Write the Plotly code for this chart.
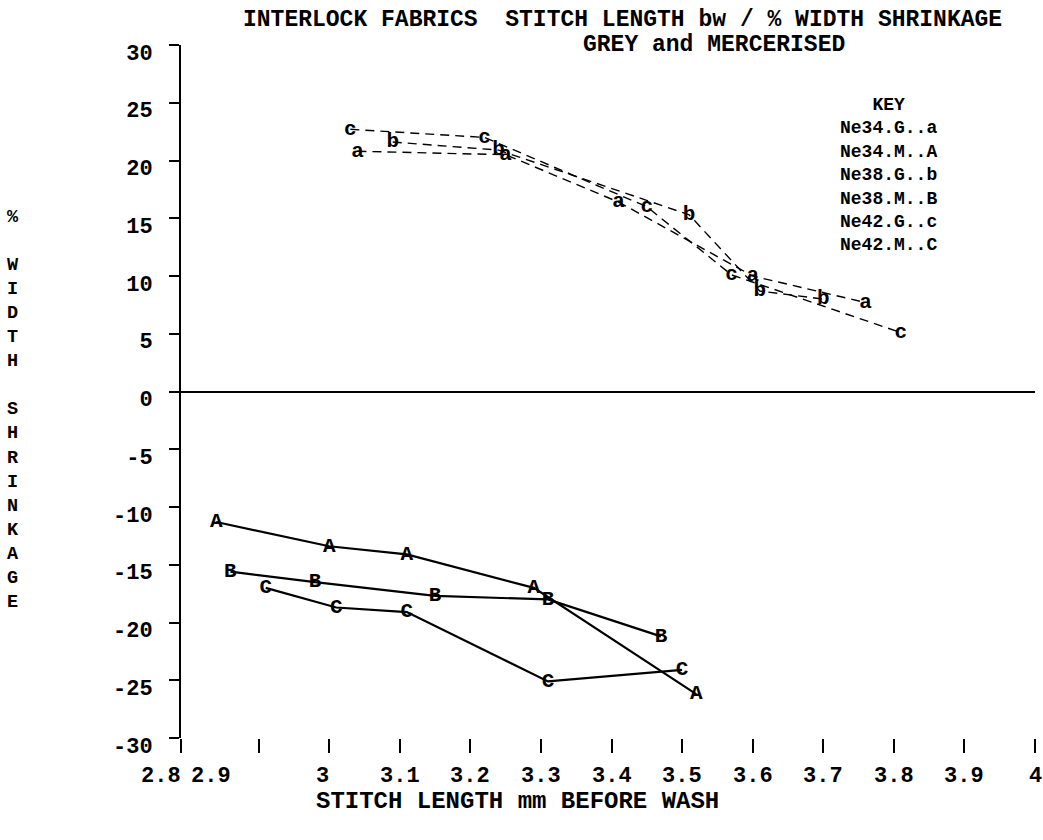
import plotly.graph_objects as go

# Stitch length (mm, before wash) vs % width shrinkage, interlock fabrics
series_names = ["Ne34.G", "Ne34.M", "Ne38.G", "Ne38.M", "Ne42.G", "Ne42.M"]
series_letters = ["a", "A", "b", "B", "c", "C"]

# grey fabrics (positive shrinkage)
a_x = [3.04, 3.25, 3.41, 3.60, 3.76]
a_y = [20.8, 20.5, 16.4, 10.0, 7.7]
b_x = [3.09, 3.24, 3.51, 3.61, 3.70]
b_y = [21.6, 20.9, 15.3, 8.7, 8.0]
c_x = [3.03, 3.22, 3.45, 3.57, 3.81]
c_y = [22.7, 22.0, 16.0, 10.1, 5.1]

# mercerised fabrics (negative shrinkage = extension)
A_x = [2.84, 3.00, 3.11, 3.29, 3.52]
A_y = [-11.3, -13.4, -14.1, -17.0, -26.2]
B_x = [2.86, 2.98, 3.15, 3.31, 3.47]
B_y = [-15.6, -16.5, -17.7, -18.0, -21.2]
C_x = [2.91, 3.01, 3.11, 3.31, 3.50]
C_y = [-17.0, -18.7, -19.1, -25.1, -24.1]

x_tick_vals = [2.9, 3.0, 3.1, 3.2, 3.3, 3.4, 3.5, 3.6, 3.7, 3.8, 3.9, 4.0]
x_tick_text = ["2.8", "2.9", "3", "3.1", "3.2", "3.3", "3.4", "3.5", "3.6", "3.7", "3.8", "3.9", "4"]
y_tick_vals = [-30, -25, -20, -15, -10, -5, 0, 5, 10, 15, 20, 25, 30]

# plotter draws the first two x labels left of their ticks
x_label_at = [2.762, 2.833, 2.99, 3.1, 3.2, 3.3, 3.4, 3.5, 3.6, 3.7, 3.8, 3.9, 4.0]

FONT = "Liberation Mono"
X_MIN, X_MAX = 2.79, 4.0

data_by_letter = {
    "a": (a_x, a_y), "b": (b_x, b_y), "c": (c_x, c_y),
    "A": (A_x, A_y), "B": (B_x, B_y), "C": (C_x, C_y),
}

fig = go.Figure()
for name, letter in zip(series_names, series_letters):
    xs, ys = data_by_letter[letter]
    grey = letter.islower()
    fig.add_trace(go.Scatter(
        x=xs, y=ys, name=name,
        mode="lines+text",
        text=[letter] * len(xs),
        textposition="middle center",
        textfont=dict(family=FONT, size=21, color="black", weight="bold"),
        line=dict(color="black", width=1.4 if grey else 2.2,
                  dash="9px,6px" if grey else "solid"),
        cliponaxis=False,
        showlegend=False,
    ))


def bold(size):
    return dict(family=FONT, size=size, color="black", weight="bold")


annotations = []

# title, two plotter lines
annotations.append(dict(
    text="INTERLOCK FABRICS  STITCH LENGTH bw / % WIDTH SHRINKAGE",
    xref="paper", yref="paper", x=0, y=1, xshift=441, yshift=25,
    xanchor="center", yanchor="middle", showarrow=False, font=bold(23),
))
annotations.append(dict(
    text="GREY and MERCERISED",
    xref="paper", yref="paper", x=0, y=1, xshift=533, yshift=0,
    xanchor="center", yanchor="middle", showarrow=False, font=bold(23),
))

# key block
key_lines = ["KEY"] + [f"{n}..{l}" for n, l in zip(series_names, series_letters)]
annotations.append(dict(
    text="<br>".join(key_lines), xref="paper", yref="paper", x=0, y=1,
    xshift=707, yshift=-48, align="center",
    xanchor="center", yanchor="top", showarrow=False, font=bold(18),
))

# x tick labels
for pos, lab in zip(x_label_at, x_tick_text):
    annotations.append(dict(
        text=lab, xref="paper", yref="paper",
        x=(pos - X_MIN) / (X_MAX - X_MIN), y=0, yshift=-38,
        xanchor="center", yanchor="middle", showarrow=False, font=bold(22),
    ))

# axis titles
annotations.append(dict(
    text="STITCH LENGTH mm BEFORE WASH",
    xref="paper", yref="paper", x=0, y=0, xshift=336, yshift=-63,
    xanchor="center", yanchor="middle", showarrow=False, font=bold(24),
))
y_title = "<br>".join(["%", "\u00a0"] + list("WIDTH") + ["\u00a0"] + list("SHRINKAGE"))
annotations.append(dict(
    text=y_title, xref="paper", yref="paper", x=0, y=0.473, xshift=-168,
    xanchor="center", yanchor="middle", showarrow=False, align="center",
    font=bold(18.5),
))

fig.update_layout(
    width=1043, height=840,
    margin=dict(l=181, r=8, t=45, b=102),
    paper_bgcolor="white", plot_bgcolor="white",
    annotations=annotations,
    xaxis=dict(
        range=[X_MIN, X_MAX], showgrid=False, zeroline=False, showline=False,
        tickmode="array", tickvals=[X_MIN] + x_tick_vals,
        ticks="outside", ticklen=14, tickwidth=2, tickcolor="black",
        showticklabels=False,
    ),
    yaxis=dict(
        range=[-30, 30], showgrid=False,
        zeroline=True, zerolinecolor="black", zerolinewidth=2,
        showline=True, linecolor="black", linewidth=2,
        tickmode="array", tickvals=y_tick_vals,
        ticktext=[str(v) for v in y_tick_vals],
        ticks="outside", ticklen=10, tickwidth=2, tickcolor="black",
        ticklabelstandoff=12, ticklabelshift=7,
        tickfont=bold(22),
    ),
)

fig.write_html("out.html")
